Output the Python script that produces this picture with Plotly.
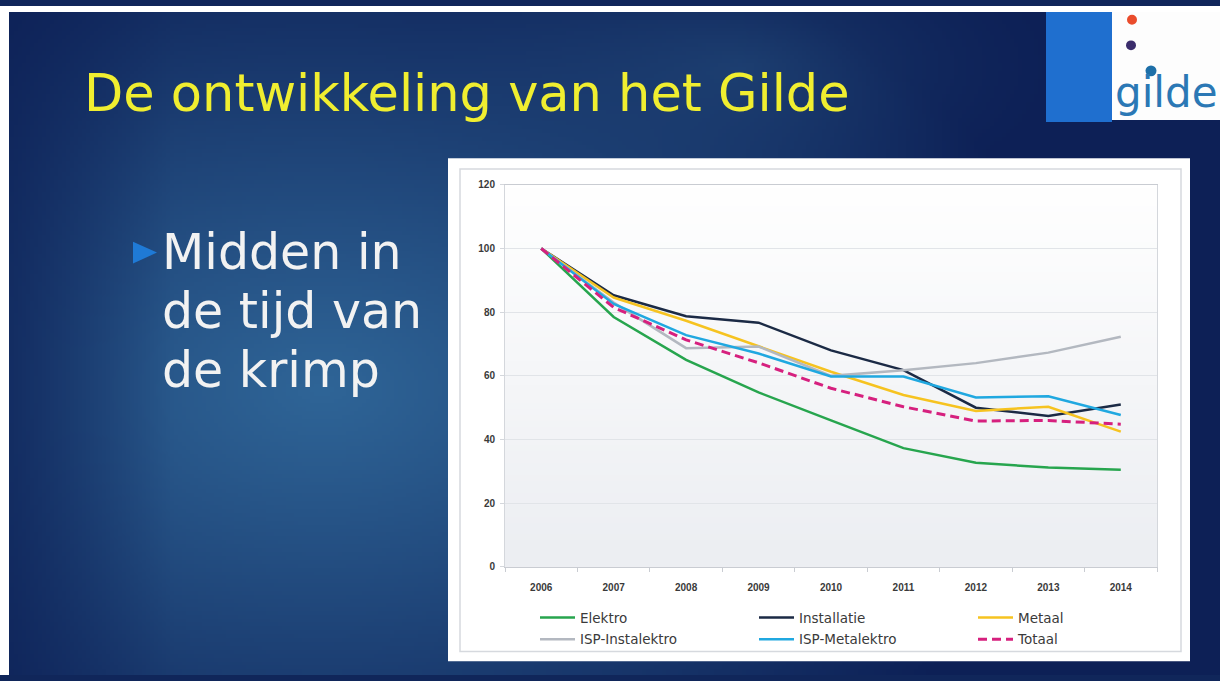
import base64, struct, zlib
import numpy as np
import plotly.graph_objects as go

W, H = 1220, 681

# ---------------- data ----------------
years = ["2006", "2007", "2008", "2009", "2010", "2011", "2012", "2013", "2014"]
elektro = [100, 78.5, 65.0, 54.8, 46.0, 37.3, 32.7, 31.2, 30.5]
installatie = [100, 85.3, 78.7, 76.7, 68.0, 61.8, 50.0, 47.4, 51.0]
metaal = [100, 84.6, 77.3, 69.3, 61.3, 54.0, 49.0, 50.3, 42.5]
isp_instalektro = [100, 83.0, 68.7, 69.2, 60.0, 61.8, 64.0, 67.3, 72.3]
isp_metalektro = [100, 82.6, 72.8, 67.0, 59.8, 59.8, 53.2, 53.6, 47.7]
totaal = [100, 81.5, 71.3, 64.1, 56.1, 50.3, 45.8, 46.0, 44.8]
y_ticks = [0, 20, 40, 60, 80, 100, 120]

series = [
    ("Elektro", elektro, "#27a54e", "solid", "legend"),
    ("Installatie", installatie, "#1b2a45", "solid", "legend"),
    ("Metaal", metaal, "#f6c320", "solid", "legend"),
    ("ISP-Instalektro", isp_instalektro, "#b3b8c0", "solid", "legend2"),
    ("ISP-Metalektro", isp_metalektro, "#20a8e0", "solid", "legend2"),
    ("Totaal", totaal, "#d6207e", "9px,5px", "legend2"),
]


def px(x):
    return x / W


def py(y):
    return 1 - y / H


def png_uri(arr):
    arr = np.clip(arr, 0, 255).astype(np.uint8)
    h, w, _ = arr.shape
    raw = b"".join(b"\x00" + arr[i].tobytes() for i in range(h))

    def chunk(t, d):
        c = struct.pack(">I", len(d)) + t + d
        return c + struct.pack(">I", zlib.crc32(t + d) & 0xFFFFFFFF)

    png = (b"\x89PNG\r\n\x1a\n"
           + chunk(b"IHDR", struct.pack(">IIBBBBB", w, h, 8, 2, 0, 0, 0))
           + chunk(b"IDAT", zlib.compress(raw, 9))
           + chunk(b"IEND", b""))
    return "data:image/png;base64," + base64.b64encode(png).decode()


def hexrgb(h):
    h = h.lstrip("#")
    return np.array([int(h[i:i + 2], 16) for i in (0, 2, 4)], dtype=float)


# slide background gradient (decorative)
S = 4
gw, gh = W // S, H // S + 1
gx, gy = np.meshgrid(np.arange(gw) * S, np.arange(gh) * S)
t = np.sqrt(((gx - 320) / 760.0) ** 2 + ((gy - 390) / 500.0) ** 2)
t = np.clip(t, 0, 1) ** 1.05
c_center = hexrgb("#2f6597")
c_edge = hexrgb("#0d2056")
bg = c_center[None, None, :] * (1 - t[..., None]) + c_edge[None, None, :] * t[..., None]
# faint second glow near the top middle
t2 = np.sqrt(((gx - 740) / 340.0) ** 2 + ((gy - 60) / 170.0) ** 2)
w2 = (1 - np.clip(t2, 0, 1)) ** 1.5 * 0.55
bg = bg * (1 - w2[..., None]) + hexrgb("#26507f")[None, None, :] * w2[..., None]
f = np.clip(gx / 170.0, 0, 1)[..., None]
bg = c_edge * (1 - (0.3 + 0.7 * f)) + bg * (0.3 + 0.7 * f)
bg_uri = png_uri(bg)

white_uri = png_uri(np.full((2, 2, 3), 255.0))

# plot-area vertical gradient
pg = np.linspace(0, 1, 64)[:, None]
top_c, bot_c = hexrgb("#ffffff"), hexrgb("#eceef2")
pcol = top_c * (1 - pg) + bot_c * pg
plot_grad = np.repeat(pcol[:, None, :], 4, axis=1)
plot_uri = png_uri(plot_grad)

# plot geometry (pixels)
PL, PR, PT, PB = 505, 1157, 182, 571

fig = go.Figure()
for name, vals, col, dash, leg in series:
    fig.add_trace(go.Scatter(
        x=years, y=vals, name=name, mode="lines",
        line=dict(color=col, width=3 if name == "Totaal" else 2.5, dash=dash),
        legend=leg, hoverinfo="skip",
    ))

tickfont = dict(family="Liberation Sans, Arial", size=10, color="#3a3a3a", weight="bold")
legfont = dict(family="DejaVu Sans", size=13.5, color="#3a3a3a")

fig.update_layout(
    width=W, height=H,
    margin=dict(l=0, r=0, t=0, b=0),
    paper_bgcolor="#10265a",
    plot_bgcolor="rgba(0,0,0,0)",
    showlegend=True,
    xaxis=dict(
        domain=[px(PL), px(PR)], type="category", range=[-0.5, 8.5],
        showgrid=False, showline=True, linecolor="#c9ccd2", linewidth=1, mirror=True,
        ticks="outside", tickson="boundaries", ticklen=4, tickcolor="#c9ccd2",
        tickfont=tickfont, ticklabelstandoff=11, fixedrange=True,
    ),
    yaxis=dict(
        domain=[py(PB), py(PT)], range=[0, 120], tickvals=y_ticks,
        showgrid=True, gridcolor="#e1e4e8", gridwidth=1,
        showline=True, linecolor="#d4d7dc", linewidth=1, mirror=True,
        zeroline=False, ticks="outside", ticklen=4, tickcolor="#d4d7dc",
        tickfont=tickfont, ticklabelstandoff=3, fixedrange=True,
    ),
    legend=dict(
        orientation="h", x=px(535), y=py(607), xanchor="left", yanchor="top",
        entrywidth=169, entrywidthmode="pixels", itemwidth=35, bgcolor="rgba(0,0,0,0)",
        font=legfont, itemclick=False, itemdoubleclick=False, tracegroupgap=0,
    ),
    legend2=dict(
        orientation="h", x=px(535), y=py(629), xanchor="left", yanchor="top",
        entrywidth=169, entrywidthmode="pixels", itemwidth=35, bgcolor="rgba(0,0,0,0)",
        font=legfont, itemclick=False, itemdoubleclick=False, tracegroupgap=0,
    ),
    images=[
        dict(source=bg_uri, xref="paper", yref="paper", x=0, y=1, sizex=1, sizey=1,
             xanchor="left", yanchor="top", sizing="stretch", layer="below"),
        dict(source=white_uri, xref="paper", yref="paper", x=px(448), y=py(155),
             sizex=px(1190) - px(448), sizey=py(155) - py(667),
             xanchor="left", yanchor="top", sizing="stretch", layer="below"),
        dict(source=plot_uri, xref="paper", yref="paper", x=px(PL), y=py(PT),
             sizex=px(PR) - px(PL), sizey=py(PT) - py(PB),
             xanchor="left", yanchor="top", sizing="stretch", layer="below"),
    ],
)

shapes = [
    # white frame of the screenshot
    dict(type="rect", xref="paper", yref="paper", x0=0, x1=px(9), y0=0, y1=1,
         fillcolor="white", line=dict(width=0), layer="above"),
    dict(type="rect", xref="paper", yref="paper", x0=0, x1=1, y0=py(6), y1=1,
         fillcolor="white", line=dict(width=0), layer="above"),
    # inner border of chart box
    dict(type="rect", xref="paper", yref="paper", x0=px(460), x1=px(1181), y0=py(657), y1=py(166),
         fillcolor="rgba(0,0,0,0)", line=dict(color="#d6d9de", width=1.5), layer="below"),
    # bullet triangle
    dict(type="path", xref="paper", yref="paper",
         path=f"M{px(133)},{py(240)} L{px(157)},{py(251)} L{px(133)},{py(262)} Z",
         fillcolor="#1f7ad6", line=dict(width=0), layer="above"),
    # logo blocks
    dict(type="rect", xref="paper", yref="paper", x0=px(1046), x1=px(1112), y0=py(118), y1=py(6),
         fillcolor="#1f6fcf", line=dict(width=0), layer="above"),
    dict(type="rect", xref="paper", yref="paper", x0=px(1112), x1=1, y0=py(116), y1=py(6),
         fillcolor="#fdfdfd", line=dict(width=0), layer="above"),
]
for (cx, cy, r, col) in [(1132, 14, 5, "#ea4c2c"), (1131, 40, 5, "#3b2d6c"), (1151, 66, 5.5, "#1e6fa8")]:
    shapes.append(dict(type="circle", xref="paper", yref="paper",
                       x0=px(cx - r), x1=px(cx + r), y0=py(cy + r), y1=py(cy - r),
                       fillcolor=col, line=dict(width=0), layer="above"))
fig.update_layout(shapes=shapes)

annotations = [
    dict(text="De ontwikkeling van het Gilde", x=px(82), y=py(89), xanchor="left", yanchor="middle",
         font=dict(family="DejaVu Sans", size=51, color="#f0ee30")),
    dict(text="Midden in", x=px(160), y=py(251), xanchor="left", yanchor="middle",
         font=dict(family="DejaVu Sans", size=49, color="#f2f2f2")),
    dict(text="de tijd van", x=px(160), y=py(311), xanchor="left", yanchor="middle",
         font=dict(family="DejaVu Sans", size=49, color="#f2f2f2")),
    dict(text="de krimp", x=px(160), y=py(371), xanchor="left", yanchor="middle",
         font=dict(family="DejaVu Sans", size=49, color="#f2f2f2")),
    dict(text="gilde", x=px(1113), y=py(88), xanchor="left", yanchor="middle",
         font=dict(family="DejaVu Sans", size=42, color="#2b78b5")),
]
for a in annotations:
    a.update(xref="paper", yref="paper", showarrow=False)
fig.update_layout(annotations=annotations)

fig.write_html("out.html", config={"displayModeBar": False})
